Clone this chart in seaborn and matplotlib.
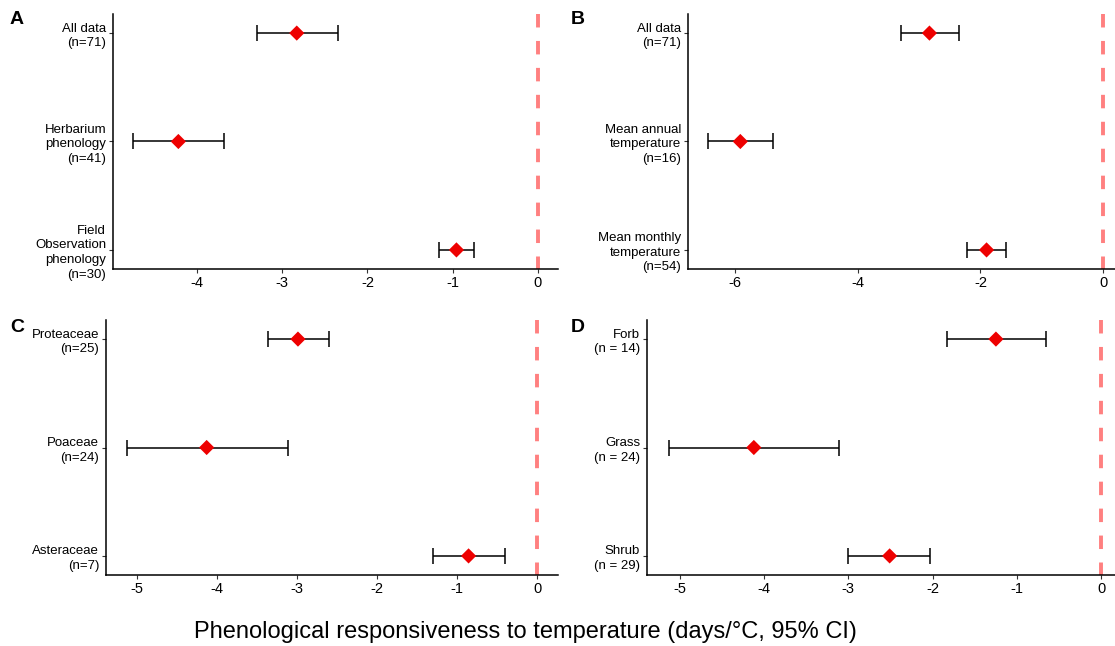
import matplotlib
matplotlib.use("Agg")
import matplotlib.pyplot as plt
import seaborn as sns
import pandas as pd
import numpy as np

# ---- data ----
a_labels = ["All data\n(n=71)", "Herbarium\nphenology\n(n=41)", "Field\nObservation\nphenology\n(n=30)"]
a_est = [-2.83, -4.22, -0.955]
a_lo = [-3.30, -4.75, -1.16]
a_hi = [-2.35, -3.69, -0.75]
a_ticks = [-4, -3, -2, -1, 0]

b_labels = ["All data\n(n=71)", "Mean annual\ntemperature\n(n=16)", "Mean monthly\ntemperature\n(n=54)"]
b_est = [-2.83, -5.91, -1.90]
b_lo = [-3.30, -6.44, -2.22]
b_hi = [-2.35, -5.38, -1.58]
b_ticks = [-6, -4, -2, 0]

c_labels = ["Proteaceae\n(n=25)", "Poaceae\n(n=24)", "Asteraceae\n(n=7)"]
c_est = [-2.99, -4.13, -0.86]
c_lo = [-3.36, -5.13, -1.31]
c_hi = [-2.60, -3.12, -0.40]
c_ticks = [-5, -4, -3, -2, -1, 0]

d_labels = ["Forb\n(n = 14)", "Grass\n(n = 24)", "Shrub\n(n = 29)"]
d_est = [-1.25, -4.12, -2.51]
d_lo = [-1.83, -5.13, -3.00]
d_hi = [-0.66, -3.11, -2.03]
d_ticks = [-5, -4, -3, -2, -1, 0]

panel_names = ["A", "B", "C", "D"]
xlabel = "Phenological responsiveness to temperature (days/\u00b0C, 95% CI)"

sns.set_theme(style="white")
plt.rcParams["font.family"] = ["Liberation Sans", "DejaVu Sans"]
plt.rcParams["text.color"] = "black"
plt.rcParams["xtick.color"] = "black"
plt.rcParams["ytick.color"] = "black"
plt.rcParams["lines.scale_dashes"] = False

W, H = 1115, 646
fig = plt.figure(figsize=(W / 100, H / 100), dpi=100)

def rect(l, r, t, b):
    return [l / W, (H - b) / H, (r - l) / W, (b - t) / H]

rects = [rect(113, 558, 14, 269), rect(688, 1123, 14, 269),
         rect(106, 558, 320, 575), rect(647, 1123, 320, 575)]
label_pos = [(10, 20), (571, 20), (10, 328), (571, 328)]

panels = [(a_labels, a_est, a_lo, a_hi, a_ticks),
          (b_labels, b_est, b_lo, b_hi, b_ticks),
          (c_labels, c_est, c_lo, c_hi, c_ticks),
          (d_labels, d_est, d_lo, d_hi, d_ticks)]

for i, (labels, est, lo, hi, ticks) in enumerate(panels):
    ax = fig.add_axes(rects[i])
    df = pd.DataFrame({"label": labels, "est": est, "lo": lo, "hi": hi})
    df["pos"] = np.arange(len(df))
    # zero reference line (drawn from top downwards)
    ax.axvline(0, ymin=1, ymax=0, color="#FF8080", lw=2.8,
               linestyle=(0, (9.7, 9.7)), zorder=1)
    # CI error bars
    ax.errorbar(df["est"], df["pos"],
                xerr=[df["est"] - df["lo"], df["hi"] - df["est"]],
                fmt="none", ecolor="black", elinewidth=1.1, capsize=6,
                capthick=1.1, zorder=2)
    sns.scatterplot(data=df, x="est", y="pos", marker="D", color="#EE0000",
                    s=60, edgecolor="none", linewidth=0, ax=ax, zorder=3,
                    legend=False)
    lo_all = min(min(lo), 0)
    hi_all = max(max(hi), 0)
    span = hi_all - lo_all
    ax.set_xlim(lo_all - 0.05 * span, hi_all + 0.05 * span)
    ax.set_ylim(2.176, -0.176)
    ax.set_yticks(df["pos"])
    ax.set_yticklabels(labels, fontsize=9.5, linespacing=1.3, ha="right")
    ax.set_xticks(ticks)
    ax.set_xticklabels([str(t) if t >= 0 else "-" + str(abs(t)) for t in ticks], fontsize=10.5)
    ax.set_xlabel("")
    ax.set_ylabel("")
    for s in ["top", "right"]:
        ax.spines[s].set_visible(False)
    for s in ["left", "bottom"]:
        ax.spines[s].set_color("black")
        ax.spines[s].set_linewidth(1.1)
    ax.tick_params(axis="both", which="both", length=3, width=0.8,
                   color="#333333", labelcolor="black", pad=2, left=True, bottom=True)
    ax.grid(False)
    fig.text(label_pos[i][0] / W, 1 - label_pos[i][1] / H, panel_names[i],
             fontsize=14, fontweight="bold", va="center", ha="left", color="black")

fig.text(525 / W, 1 - 632 / H, xlabel, fontsize=17, ha="center", va="center", color="black")

fig.savefig("out.png", dpi=100, facecolor="white")
